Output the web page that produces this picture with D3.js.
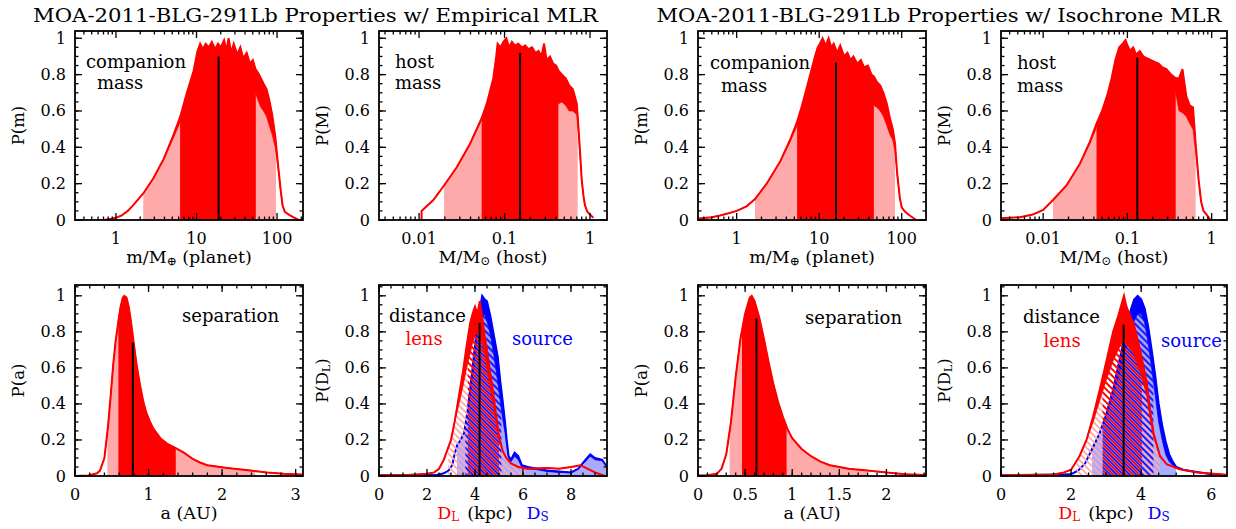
<!DOCTYPE html>
<html>
<head>
<meta charset="utf-8">
<script src="https://cdn.jsdelivr.net/npm/d3@7"></script>
<style>
body { margin: 0; background: #fff; }
text { font-family: "DejaVu Serif", serif; }
</style>
</head>
<body>
<div id="chart"></div>
<script>
// ---- data: [x, lower envelope, upper envelope] ----
const planetMassEmp = [[0.71,0,0],[0.85,0.005,0.005],[1.0,0.012,0.012],[1.18,0.025,0.025],[1.4,0.05,0.05],[1.64,0.082,0.082],[2.18,0.146,0.146],[2.9,0.228,0.228],[3.9,0.33,0.335],[5.2,0.455,0.47],[6.3,0.54,0.57],[7.6,0.64,0.7],[9.2,0.76,0.82],[10.3,0.84,0.93],[11.1,0.88,0.97],[12,0.9,0.94],[13,0.9,0.97],[14.2,0.9,0.95],[15.5,0.9,0.98],[17,0.9,0.94],[18.5,0.9,0.97],[20,0.88,0.95],[22,0.88,0.99],[23.5,0.87,0.93],[25,0.87,1.0],[27,0.86,0.92],[29,0.85,0.97],[32,0.84,0.91],[35,0.82,0.95],[38,0.8,0.89],[42,0.78,0.92],[46,0.76,0.86],[50,0.73,0.88],[54,0.7,0.83],[58,0.66,0.81],[63,0.62,0.78],[68,0.6,0.75],[74,0.57,0.72],[80,0.52,0.66],[87,0.47,0.58],[95,0.4,0.46],[102,0.3,0.32],[110,0.17,0.18],[117,0.08,0.08],[125,0.045,0.045],[140,0.03,0.03],[160,0.015,0.015],[186,0,0]];
const planetSigmaEmp = [2.18, 6.25, 54.5, 97];
const planetMedianEmp = [18.8, 0.9];

const hostMassEmp = [[0.0107,0,0],[0.0107,0.05,0.05],[0.0147,0.11,0.11],[0.0196,0.19,0.19],[0.0276,0.29,0.29],[0.0395,0.42,0.42],[0.054,0.55,0.56],[0.062,0.62,0.64],[0.074,0.74,0.78],[0.08,0.82,0.9],[0.083,0.88,0.97],[0.09,0.9,0.95],[0.097,0.9,0.98],[0.105,0.9,1.0],[0.113,0.9,0.95],[0.122,0.9,0.98],[0.132,0.9,0.96],[0.145,0.89,0.97],[0.16,0.89,0.95],[0.175,0.88,0.96],[0.19,0.87,0.94],[0.21,0.86,0.95],[0.23,0.85,0.92],[0.25,0.84,0.93],[0.27,0.83,0.9],[0.29,0.82,0.97],[0.31,0.8,0.88],[0.34,0.78,0.9],[0.37,0.75,0.86],[0.4,0.7,0.85],[0.43,0.64,0.82],[0.47,0.65,0.8],[0.52,0.63,0.78],[0.57,0.6,0.74],[0.63,0.6,0.72],[0.7,0.58,0.64],[0.73,0.48,0.52],[0.77,0.33,0.35],[0.8,0.22,0.22],[0.84,0.13,0.13],[0.874,0.08,0.08],[0.93,0.045,0.045],[1.0,0.03,0.03],[1.09,0.012,0.012]];
const hostSigmaEmp = [0.0196, 0.054, 0.426, 0.717];
const hostMedianEmp = [0.152, 0.92];

const planetMassIso = [[0.343,0.008,0.008],[0.5,0.015,0.015],[0.63,0.025,0.025],[0.8,0.037,0.037],[1.0,0.05,0.05],[1.32,0.075,0.075],[1.67,0.115,0.115],[2.31,0.2,0.2],[3.35,0.32,0.32],[4.43,0.43,0.44],[5.4,0.52,0.54],[6.2,0.6,0.63],[7.0,0.67,0.72],[8.0,0.75,0.82],[8.9,0.8,0.9],[9.6,0.85,0.95],[10.2,0.88,0.97],[11,0.9,1.0],[12,0.9,0.96],[13,0.9,1.0],[14,0.88,0.95],[15,0.88,0.97],[16.5,0.86,0.92],[18,0.85,0.96],[20,0.84,0.9],[22,0.83,0.92],[24,0.81,0.88],[26,0.8,0.9],[29,0.79,0.86],[32,0.78,0.88],[35,0.77,0.84],[39,0.75,0.85],[43,0.72,0.8],[46,0.63,0.79],[50,0.62,0.76],[55,0.6,0.74],[60,0.57,0.7],[66,0.52,0.64],[72,0.47,0.56],[78,0.44,0.5],[83,0.38,0.42],[88,0.25,0.26],[95,0.12,0.12],[100,0.07,0.07],[110,0.045,0.045],[125,0.025,0.025],[150,0,0]];
const planetSigmaIso = [1.67, 5.4, 46, 83];
const planetMedianIso = [16, 0.866];

const hostMassIso = [[0.0031,0.01,0.01],[0.0053,0.015,0.015],[0.0075,0.03,0.03],[0.01,0.055,0.055],[0.0131,0.11,0.11],[0.0189,0.19,0.19],[0.0273,0.31,0.31],[0.0358,0.42,0.43],[0.043,0.51,0.53],[0.05,0.57,0.6],[0.058,0.64,0.69],[0.065,0.7,0.78],[0.072,0.78,0.88],[0.08,0.85,0.95],[0.088,0.88,0.97],[0.095,0.9,0.99],[0.1,0.9,0.96],[0.108,0.89,0.93],[0.117,0.89,0.95],[0.127,0.88,0.91],[0.14,0.87,0.93],[0.155,0.86,0.9],[0.17,0.85,0.89],[0.19,0.84,0.88],[0.21,0.83,0.87],[0.235,0.82,0.86],[0.26,0.8,0.84],[0.29,0.78,0.83],[0.33,0.76,0.8],[0.374,0.7,0.78],[0.41,0.6,0.78],[0.45,0.59,0.83],[0.5,0.57,0.68],[0.55,0.53,0.63],[0.6,0.5,0.62],[0.645,0.38,0.42],[0.7,0.22,0.22],[0.75,0.1,0.1],[0.8,0.05,0.05],[0.87,0.03,0.03],[0.97,0,0]];
const hostSigmaIso = [0.0131, 0.043, 0.374, 0.645];
const hostMedianIso = [0.131, 0.894];

// separation: [a, P]
const sepEmp = [[0,0],[0.18,0.003],[0.3,0.015],[0.34,0.03],[0.4,0.1],[0.45,0.28],[0.48,0.42],[0.52,0.62],[0.55,0.74],[0.59,0.86],[0.62,0.94],[0.65,0.99],[0.67,1.0],[0.70,0.99],[0.73,0.94],[0.76,0.86],[0.795,0.75],[0.84,0.61],[0.886,0.5],[0.93,0.41],[0.97,0.35],[1.02,0.3],[1.07,0.26],[1.16,0.21],[1.25,0.18],[1.37,0.155],[1.48,0.13],[1.6,0.095],[1.7,0.075],[1.8,0.06],[2.07,0.045],[2.39,0.03],[2.61,0.02],[2.84,0.012],[3.1,0.008]];
const sepSigmaEmp = [0.44, 0.59, 1.37, 2.45];
const sepMedianEmp = [0.786, 0.74];

const sepIso = [[0,0.003],[0.1,0.004],[0.2,0.012],[0.25,0.04],[0.3,0.12],[0.35,0.3],[0.4,0.55],[0.45,0.76],[0.5,0.9],[0.55,0.99],[0.57,1.0],[0.6,0.97],[0.65,0.88],[0.7,0.76],[0.75,0.63],[0.8,0.51],[0.85,0.41],[0.9,0.33],[0.95,0.26],[1.0,0.21],[1.1,0.15],[1.2,0.11],[1.3,0.08],[1.4,0.06],[1.6,0.04],[1.8,0.03],[2.0,0.02],[2.2,0.01],[2.42,0.005]];
const sepSigmaIso = [0.335, 0.467, 0.94, 1.8];
const sepMedianIso = [0.62, 0.874];

// distances: [kpc, lower envelope, upper envelope]
const lensDistEmp = [[0,0.004,0.004],[1,0.004,0.004],[2,0.012,0.012],[2.3,0.02,0.02],[2.5,0.04,0.04],[2.7,0.09,0.09],[3.0,0.2,0.2],[3.15,0.3,0.3],[3.3,0.38,0.42],[3.5,0.5,0.58],[3.65,0.6,0.72],[3.8,0.68,0.85],[3.9,0.74,0.9],[4.0,0.78,0.94],[4.1,0.79,0.9],[4.2,0.78,0.97],[4.3,0.74,0.88],[4.4,0.68,0.78],[4.5,0.6,0.7],[4.6,0.52,0.6],[4.7,0.44,0.52],[4.8,0.36,0.42],[4.9,0.28,0.32],[5.0,0.2,0.22],[5.15,0.14,0.14],[5.3,0.1,0.1],[5.5,0.07,0.07],[5.8,0.05,0.05],[6.2,0.04,0.04],[7,0.045,0.045],[7.5,0.04,0.04],[8,0.05,0.05],[8.4,0.06,0.06],[8.7,0.04,0.04],[9,0.02,0.02],[9.4,0,0]];
const lensSigmaEmp = [2.88, 3.7, 5.0, 6.1];
const srcDistEmp = [[0,0.003,0.003],[2.4,0.006,0.006],[2.7,0.015,0.015],[2.9,0.03,0.03],[3.05,0.06,0.06],[3.15,0.12,0.12],[3.25,0.17,0.17],[3.4,0.2,0.2],[3.55,0.24,0.24],[3.7,0.35,0.37],[3.9,0.55,0.6],[4.1,0.78,0.85],[4.3,0.88,1.0],[4.4,0.9,0.98],[4.5,0.86,0.97],[4.65,0.78,0.88],[4.8,0.66,0.77],[4.95,0.52,0.66],[5.05,0.42,0.53],[5.15,0.32,0.42],[5.25,0.24,0.3],[5.32,0.17,0.2],[5.4,0.1,0.11],[5.5,0.08,0.09],[5.65,0.11,0.13],[5.8,0.09,0.11],[5.95,0.05,0.06],[6.2,0.04,0.05],[6.6,0.035,0.04],[7.0,0.025,0.03],[7.5,0.02,0.025],[8.0,0.018,0.02],[8.3,0.04,0.04],[8.6,0.08,0.09],[8.8,0.11,0.12],[9.0,0.09,0.1],[9.3,0.085,0.09],[9.5,0.05,0.05]];
const srcSigmaEmp = [3.25, 3.6, 5.1, 9.5];
const distMedianEmp = [4.19, 0.85];

const lensDistIso = [[0,0.004,0.004],[1.5,0.008,0.008],[1.8,0.02,0.02],[2.0,0.035,0.035],[2.24,0.11,0.11],[2.44,0.2,0.2],[2.63,0.3,0.33],[2.82,0.42,0.48],[3.0,0.53,0.63],[3.2,0.64,0.8],[3.35,0.7,0.89],[3.45,0.74,0.96],[3.51,0.75,1.0],[3.58,0.74,0.94],[3.7,0.7,0.88],[3.78,0.68,0.85],[3.97,0.58,0.7],[4.16,0.45,0.52],[4.25,0.33,0.37],[4.35,0.22,0.24],[4.54,0.11,0.11],[4.73,0.065,0.065],[5.1,0.037,0.037],[5.6,0.02,0.02],[6.26,0.01,0.01],[6.45,0.005,0.005]];
const lensSigmaIso = [2.16, 2.9, 4.02, 4.54];
const srcDistIso = [[0,0.003,0.003],[2.0,0.01,0.01],[2.2,0.03,0.03],[2.4,0.07,0.07],[2.6,0.15,0.15],[2.8,0.23,0.23],[3.0,0.33,0.34],[3.2,0.45,0.48],[3.4,0.58,0.66],[3.6,0.74,0.84],[3.7,0.8,0.92],[3.8,0.86,0.98],[3.9,0.9,1.0],[4.0,0.9,0.98],[4.1,0.85,0.93],[4.2,0.74,0.83],[4.3,0.6,0.7],[4.4,0.45,0.56],[4.5,0.3,0.4],[4.6,0.2,0.28],[4.7,0.12,0.19],[4.8,0.08,0.12],[4.9,0.06,0.08],[5.0,0.045,0.05],[5.2,0.035,0.035],[5.5,0.025,0.025],[6.0,0.01,0.01],[6.45,0.005,0.005]];
const srcSigmaIso = [2.6, 2.9, 4.35, 5.0];
const distMedianIso = [3.5, 0.84];

// tick labels
const yTicks = [0, 0.2, 0.4, 0.6, 0.8, 1];
const planetTicks = [1, 10, 100];
const hostTicks = [0.01, 0.1, 1];
const sepTicksEmp = [0, 1, 2, 3];
const sepTicksIso = [0, 0.5, 1, 1.5, 2];
const distTicksEmp = [0, 2, 4, 6, 8];
const distTicksIso = [0, 2, 4, 6];

const titles = ["MOA-2011-BLG-291Lb Properties w/ Empirical MLR",
                "MOA-2011-BLG-291Lb Properties w/ Isochrone MLR"];

const RED = "#ff0000", PINK = "#ffaaaa", BLUE = "#0000ff", LBLUE = "#aaaaff";

const svg = d3.select("#chart")
    .append("svg")
    .attr("width", 1236)
    .attr("height", 529);

const defs = svg.append("defs");
function hatch(id, color, off) {
    defs.append("pattern")
        .attr("id", id)
        .attr("patternUnits", "userSpaceOnUse")
        .attr("width", 4.6).attr("height", 4.6)
        .attr("patternTransform", "rotate(-45)")
        .append("rect")
        .attr("x", off).attr("y", 0)
        .attr("width", 1.8).attr("height", 4.6)
        .attr("fill", color);
}
hatch("hRed", RED, 0);
hatch("hPink", PINK, 0);
hatch("hBlue", BLUE, 2.3);

const sepPairs = d => d.map(p => [p[0], p[1], p[1]]);

const panels = [
    {box: [75, 31, 303, 220], log: true, xdom: [0.31, 210], xticks: planetTicks, ytop: 1.04,
     kind: "mass", data: planetMassEmp, sigma: planetSigmaEmp, median: planetMedianEmp,
     ylab: ["P(m)"], xlab: "planet",
     notes: [{t: "companion", x: 11, y: 30}, {t: "mass", x: 22, y: 51}]},
    {box: [379, 31, 607, 220], log: true, xdom: [0.0034, 1.58], xticks: hostTicks, ytop: 1.04,
     kind: "mass", data: hostMassEmp, sigma: hostSigmaEmp, median: hostMedianEmp,
     ylab: ["P(M)"], xlab: "host",
     notes: [{t: "host", x: 16, y: 30}, {t: "mass", x: 16, y: 51}]},
    {box: [698, 31, 926, 220], log: true, xdom: [0.34, 197], xticks: planetTicks, ytop: 1.04,
     kind: "mass", data: planetMassIso, sigma: planetSigmaIso, median: planetMedianIso,
     ylab: ["P(m)"], xlab: "planet",
     notes: [{t: "companion", x: 12, y: 31}, {t: "mass", x: 23, y: 54}]},
    {box: [1001, 31, 1227, 220], log: true, xdom: [0.00316, 1.52], xticks: hostTicks, ytop: 1.04,
     kind: "mass", data: hostMassIso, sigma: hostSigmaIso, median: hostMedianIso,
     ylab: ["P(M)"], xlab: "host",
     notes: [{t: "host", x: 16, y: 31}, {t: "mass", x: 16, y: 54}]},
    {box: [75, 285, 303, 476], log: false, xdom: [0, 3.1], xticks: sepTicksEmp, minor: 0.2, ytop: 1.06,
     kind: "mass", data: sepPairs(sepEmp), sigma: sepSigmaEmp, median: sepMedianEmp,
     ylab: ["P(a)"], xlab: "sep",
     notes: [{t: "separation", x: 204, y: 30, anchor: "end"}]},
    {box: [379, 285, 607, 476], log: false, xdom: [0, 9.5], xticks: distTicksEmp, minor: 0.5, ytop: 1.06,
     kind: "dist", lens: lensDistEmp, lensSigma: lensSigmaEmp, src: srcDistEmp, srcSigma: srcSigmaEmp,
     median: distMedianEmp, ylab: ["P(D", "L", ")"], xlab: "dist",
     notes: [{t: "distance", x: 10, y: 30}, {t: "lens", x: 45, y: 53, anchor: "middle", c: RED},
             {t: "source", x: 194, y: 53, anchor: "end", c: BLUE}]},
    {box: [698, 285, 926, 476], log: false, xdom: [0, 2.42], xticks: sepTicksIso, minor: 0.1, ytop: 1.06,
     kind: "mass", data: sepPairs(sepIso), sigma: sepSigmaIso, median: sepMedianIso,
     ylab: ["P(a)"], xlab: "sep",
     notes: [{t: "separation", x: 204, y: 32, anchor: "end"}]},
    {box: [1001, 285, 1227, 476], log: false, xdom: [0, 6.45], xticks: distTicksIso, minor: 0.5, ytop: 1.06,
     kind: "dist", lens: lensDistIso, lensSigma: lensSigmaIso, src: srcDistIso, srcSigma: srcSigmaIso,
     median: distMedianIso, ylab: ["P(D", "L", ")"], xlab: "dist",
     notes: [{t: "distance", x: 22, y: 31}, {t: "lens", x: 61, y: 55, anchor: "middle", c: RED},
             {t: "source", x: 221, y: 55, anchor: "end", c: BLUE}]}
];

panels.forEach((p, i) => {
    const [x0, y0, x1, y1] = p.box;
    const x = (p.log ? d3.scaleLog() : d3.scaleLinear()).domain(p.xdom).range([x0, x1]);
    const y = d3.scaleLinear().domain([0, p.ytop]).range([y1, y0]);
    const g = svg.append("g");

    defs.append("clipPath").attr("id", "box" + i)
        .append("rect").attr("x", x0).attr("y", y0).attr("width", x1 - x0).attr("height", y1 - y0);
    const clipRange = (name, a, b) => {
        defs.append("clipPath").attr("id", name)
            .append("rect").attr("x", x(a)).attr("y", y0).attr("width", x(b) - x(a)).attr("height", y1 - y0);
        return "url(#" + name + ")";
    };

    const under = d3.area().x(d => x(d[0])).y0(y(0)).y1(d => y(d[1]));
    const underHi = d3.area().x(d => x(d[0])).y0(y(0)).y1(d => y(d[2]));
    const band = d3.area().x(d => x(d[0])).y0(d => y(d[1])).y1(d => y(d[2]));
    const top = d3.line().x(d => x(d[0])).y(d => y(d[2]));

    const plot = g.append("g").attr("clip-path", "url(#box" + i + ")");

    function dist(data, s, fill2, fill1, col, id, solidCore) {
        plot.append("path").datum(data).attr("d", under)
            .attr("fill", fill2).attr("clip-path", clipRange(id + "2", s[0], s[3]));
        plot.append("path").datum(data).attr("d", solidCore ? underHi : under)
            .attr("fill", fill1).attr("clip-path", clipRange(id + "1", s[1], s[2]));
        plot.append("path").datum(data).attr("d", band)
            .attr("fill", col).attr("stroke", col).attr("stroke-width", 0.8);
        plot.append("path").datum(data).attr("d", top)
            .attr("fill", "none").attr("stroke", col).attr("stroke-width", 2);
    }

    if (p.kind === "mass") {
        dist(p.data, p.sigma, PINK, RED, RED, "m" + i, true);
    } else {
        // source: light blue 2 sigma, blue hatch over light blue 1 sigma
        plot.append("path").datum(p.src).attr("d", under)
            .attr("fill", LBLUE).attr("clip-path", clipRange("sb" + i, p.srcSigma[1], p.srcSigma[2]));
        dist(p.src, p.srcSigma, LBLUE, "url(#hBlue)", BLUE, "s" + i, false);
        dist(p.lens, p.lensSigma, "url(#hPink)", "url(#hRed)", RED, "l" + i, false);
    }

    plot.append("line")
        .attr("x1", x(p.median[0])).attr("x2", x(p.median[0]))
        .attr("y1", y(0)).attr("y2", y(p.median[1]))
        .attr("stroke", "#000").attr("stroke-width", 2);

    // frame and ticks (inward, all four sides)
    g.append("rect").attr("x", x0).attr("y", y0).attr("width", x1 - x0).attr("height", y1 - y0)
        .attr("fill", "none").attr("stroke", "#000").attr("stroke-width", 1.8);

    let minors = [];
    if (p.log) {
        const e0 = Math.floor(Math.log10(p.xdom[0])), e1 = Math.ceil(Math.log10(p.xdom[1]));
        for (let e = e0; e <= e1; e++) {
            for (let k = 2; k < 10; k++) {
                const v = k * Math.pow(10, e);
                if (v >= p.xdom[0] && v <= p.xdom[1]) minors.push(v);
            }
        }
    } else {
        minors = d3.range(0, p.xdom[1], p.minor);
    }
    const ticks = g.append("g").attr("stroke", "#000").attr("stroke-width", 1.3);
    const xt = (v, len) => {
        ticks.append("line").attr("x1", x(v)).attr("x2", x(v)).attr("y1", y1).attr("y2", y1 - len);
        ticks.append("line").attr("x1", x(v)).attr("x2", x(v)).attr("y1", y0).attr("y2", y0 + len);
    };
    const yt = (v, len) => {
        ticks.append("line").attr("y1", y(v)).attr("y2", y(v)).attr("x1", x0).attr("x2", x0 + len);
        ticks.append("line").attr("y1", y(v)).attr("y2", y(v)).attr("x1", x1).attr("x2", x1 - len);
    };
    minors.forEach(v => xt(v, 3.5));
    p.xticks.forEach(v => xt(v, 7));
    d3.range(0, p.ytop, 0.05).forEach(v => yt(v, 3.5));
    yTicks.forEach(v => yt(v, 7));

    const labels = g.append("g").attr("font-size", 16).attr("fill", "#000");
    p.xticks.forEach(v => {
        labels.append("text").attr("x", x(v)).attr("y", y1 + 18)
            .attr("text-anchor", "middle").attr("dominant-baseline", "central").text(String(v));
    });
    yTicks.forEach(v => {
        labels.append("text").attr("x", x0 - 9).attr("y", y(v))
            .attr("text-anchor", "end").attr("dominant-baseline", "central").text(String(v));
    });

    // y axis title
    const yl = g.append("text").attr("font-size", 16.5)
        .attr("transform", `translate(${x0 - 57},${(y0 + y1) / 2}) rotate(-90)`)
        .attr("text-anchor", "middle").attr("dominant-baseline", "central");
    yl.append("tspan").text(p.ylab[0]);
    if (p.ylab.length > 1) {
        yl.append("tspan").attr("font-size", 11).attr("dy", 4).text(p.ylab[1]);
        yl.append("tspan").attr("dy", -4).text(p.ylab[2]);
    }

    // x axis title
    const xl = g.append("text").attr("font-size", 17.5)
        .attr("x", (x0 + x1) / 2).attr("y", y1 + 37)
        .attr("text-anchor", "middle").attr("dominant-baseline", "central");
    if (p.xlab === "planet" || p.xlab === "host") {
        xl.append("tspan").text(p.xlab === "planet" ? "m/M" : "M/M");
        xl.append("tspan").attr("font-size", 12).attr("dy", 4).text(p.xlab === "planet" ? "\u2295" : "\u2299");
        xl.append("tspan").attr("dy", -4).text(p.xlab === "planet" ? " (planet)" : " (host)");
    } else if (p.xlab === "sep") {
        xl.text("a (AU)");
    } else {
        xl.append("tspan").attr("fill", RED).text("D");
        xl.append("tspan").attr("fill", RED).attr("font-size", 12).attr("dy", 4).text("L");
        xl.append("tspan").attr("dy", -4).attr("dx", 8).text("(kpc)");
        xl.append("tspan").attr("fill", BLUE).attr("dx", 14).text("D");
        xl.append("tspan").attr("fill", BLUE).attr("font-size", 12).attr("dy", 4).text("S");
    }

    // annotations
    p.notes.forEach(n => {
        g.append("text").attr("font-size", 18)
            .attr("x", x0 + n.x).attr("y", y0 + n.y)
            .attr("text-anchor", n.anchor || "start").attr("dominant-baseline", "central")
            .attr("fill", n.c || "#000").text(n.t);
    });
});

// titles
[[315.5, titles[0]], [939, titles[1]]].forEach(([cx, t]) => {
    svg.append("text").attr("x", cx).attr("y", 15)
        .attr("font-size", 19).attr("text-anchor", "middle").attr("dominant-baseline", "central")
        .attr("textLength", 565).attr("lengthAdjust", "spacingAndGlyphs").text(t);
});
</script>
</body>
</html>
